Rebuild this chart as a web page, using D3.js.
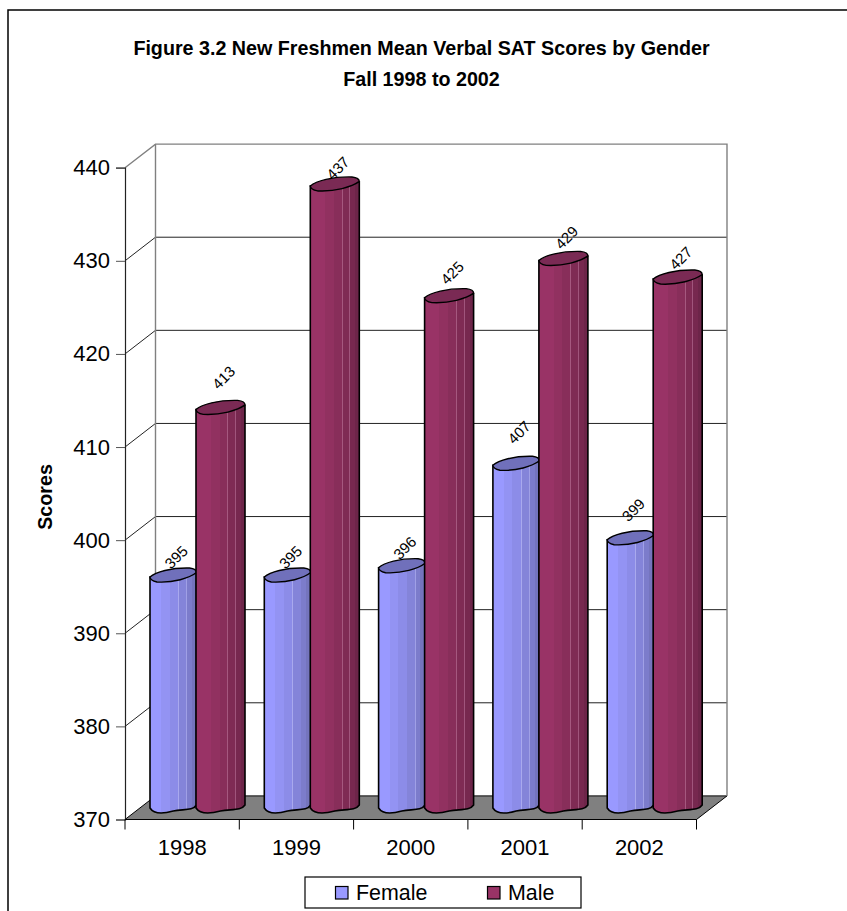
<!DOCTYPE html>
<html>
<head>
<meta charset="utf-8">
<script src="https://cdn.jsdelivr.net/npm/d3@7"></script>
<style>
  html, body { margin: 0; padding: 0; background: #fff; }
  svg { display: block; }
  text { font-family: "Liberation Sans", Arial, sans-serif; fill: #000; }
</style>
</head>
<body>
<svg id="plot" width="847" height="911"></svg>
<script>
// Values
const years = ["1998", "1999", "2000", "2001", "2002"];
const female = [395, 395, 396, 407, 399];
const male = [413, 437, 425, 429, 427];
const yTicks = [370, 380, 390, 400, 410, 420, 430, 440];
const seriesNames = ["Female", "Male"];

// How far each value label floats above its bar
const femaleLift = [20, 20, 20, 33, 30];
const maleLift = [32, 18, 25, 23, 21];

const depthX = 30.5, depthY = -23.6;
const svg = d3.select("#plot");

// Set the ranges
const x = d3.scaleBand().domain(years).range([125, 696.5]);
const y = d3.scaleLinear().domain([370, 440]).range([819.5, 167.7]);

// Outer chart border, runs off the right and bottom of the picture
svg.append("rect")
    .attr("x", 8).attr("y", 10)
    .attr("width", 900).attr("height", 950)
    .attr("fill", "#fff").attr("stroke", "#000").attr("stroke-width", 1.5);

// Title
const title = svg.append("text")
    .attr("text-anchor", "middle")
    .attr("font-weight", "bold")
    .attr("font-size", 19.7);
title.append("tspan").attr("x", 421.5).attr("y", 55).text("Figure 3.2 New Freshmen Mean Verbal SAT Scores by Gender");
title.append("tspan").attr("x", 421.5).attr("y", 86).text("Fall 1998 to 2002");

// Back wall, side wall and floor
const x0 = x.range()[0], x1 = x.range()[1];
svg.append("path")
    .attr("d", `M${x0 + depthX},${y(370) + depthY}H${x1 + depthX}L${x1},${y(370)}H${x0}Z`)
    .attr("fill", "#808080").attr("stroke", "#000");

svg.selectAll(".grid")
    .data(yTicks.slice(1, -1))
  .enter().append("path")
    .attr("class", "grid")
    .attr("fill", "none").attr("stroke", "#222")
    .attr("d", (d) => `M${x0},${y(d)}L${x0 + depthX},${y(d) + depthY}H${x1 + depthX}`);

svg.append("path")
    .attr("fill", "none").attr("stroke", "#808080").attr("stroke-width", 1.4)
    .attr("d", `M${x0},${y(440)}L${x0 + depthX},${y(440) + depthY}H${x1 + depthX}V${y(370) + depthY}`);
svg.append("path")
    .attr("fill", "none").attr("stroke", "#808080").attr("stroke-width", 1.4)
    .attr("d", `M${x0 + depthX},${y(440) + depthY}V${y(370) + depthY}`);

// Axes
svg.append("g")
    .attr("transform", `translate(${x0},0)`)
    .call(d3.axisLeft(y).tickValues(yTicks).tickSize(9).tickPadding(6))
    .call((g) => g.select(".domain").attr("stroke", "#222").attr("stroke-width", 1.2))
    .call((g) => g.selectAll(".tick line").attr("stroke", "#555"))
    .call((g) => g.selectAll("text").attr("font-size", 22).attr("font-family", "Liberation Sans"));

svg.append("g")
    .attr("transform", `translate(0,${y(370)})`)
    .call(d3.axisBottom(x).tickSize(0).tickPadding(20))
    .call((g) => g.select(".domain").attr("d", `M${x0},0H${x1}`).attr("stroke", "#000"))
    .call((g) => g.selectAll("text").attr("font-size", 22).attr("font-family", "Liberation Sans"));

svg.selectAll(".xtick")
    .data(years.map((d) => x(d)).concat([x1]))
  .enter().append("line")
    .attr("class", "xtick")
    .attr("x1", (d) => d).attr("x2", (d) => d)
    .attr("y1", y(370)).attr("y2", y(370) + 10)
    .attr("stroke", "#000");

svg.append("text")
    .attr("transform", "translate(52,497) rotate(-90)")
    .attr("text-anchor", "middle")
    .attr("font-weight", "bold")
    .attr("font-size", 19.7)
    .text("Scores");

// Cylinder shading, hard colour bands with a few pale seams
const defs = svg.append("defs");
function shade(id, bands) {
  const g = defs.append("linearGradient").attr("id", id);
  bands.forEach(([from, to, c]) => {
    g.append("stop").attr("offset", from).attr("stop-color", c);
    g.append("stop").attr("offset", to).attr("stop-color", c);
  });
}
shade("femaleShade", [
  [0, 0.24, "#9999ff"], [0.24, 0.42, "#9393f3"], [0.42, 0.6, "#8c8ce8"], [0.6, 0.62, "#a9a9ee"],
  [0.62, 0.78, "#8484d9"], [0.78, 0.8, "#a0a0e6"], [0.8, 0.9, "#7c7ccb"], [0.9, 1, "#7474bd"]
]);
shade("maleShade", [
  [0, 0.3, "#993366"], [0.3, 0.48, "#913160"], [0.48, 0.64, "#882e5a"], [0.64, 0.66, "#a5587f"],
  [0.66, 0.8, "#7f2b54"], [0.8, 0.82, "#a0557c"], [0.82, 0.92, "#77284f"], [0.92, 1, "#6d2549"]
]);

// bar geometry relative to the band
const femaleOffset = 25, femaleWidth = 46.5, maleOffset = 71, maleWidth = 49;
const planeShift = 9.7;

function cylinder(left, width, value, fill, topFill, lift) {
  const top = y(value) - planeShift;
  const base = y(370) - 11.5;
  const r = width;
  const g = svg.append("g");
  g.append("path")
      .attr("d", `M${left},${top}V${base}` +
        `C${left + r * 0.08},${base + 6} ${left + r * 0.28},${base + 6} ${left + r * 0.5},${base + 3}` +
        `C${left + r * 0.72},${base + 1} ${left + r * 0.92},${base + 3} ${left + r},${base - 3}` +
        `V${top - 4}Z`)
      .attr("fill", fill).attr("stroke", "#000").attr("stroke-width", 1.6);
  g.append("path")
      .attr("d", `M${left},${top}` +
        `C${left + r * 0.12},${top - 5} ${left + r * 0.45},${top - 9.5} ${left + r * 0.85},${top - 9}` +
        `C${left + r * 0.95},${top - 8.5} ${left + r},${top - 6.5} ${left + r},${top - 4.5}` +
        `C${left + r * 0.85},${top + 1} ${left + r * 0.5},${top + 6} ${left + r * 0.15},${top + 5}` +
        `C${left + r * 0.06},${top + 4} ${left},${top + 2} ${left},${top}Z`)
      .attr("fill", topFill).attr("stroke", "#000").attr("stroke-width", 1.4);
  svg.append("text")
      .attr("transform", `translate(${left + r * 0.56},${top - lift}) rotate(-45)`)
      .attr("font-size", 15)
      .attr("text-anchor", "middle")
      .attr("dominant-baseline", "central")
      .text(value);
}

// Create the bars, female first so male overlaps it
years.forEach((yr, i) => {
  cylinder(x(yr) + femaleOffset, femaleWidth, female[i], "url(#femaleShade)", "#7070bb", femaleLift[i]);
  cylinder(x(yr) + maleOffset, maleWidth, male[i], "url(#maleShade)", "#7a2a54", maleLift[i]);
});

// Legend
svg.append("rect")
    .attr("x", 305).attr("y", 877).attr("width", 276).attr("height", 31)
    .attr("fill", "#fff").attr("stroke", "#000").attr("stroke-width", 1.2);
const legendX = d3.scalePoint().domain(seriesNames).range([335.5, 487.5]);
const legendFill = d3.scaleOrdinal().domain(seriesNames).range(["#9999ff", "#993366"]);
seriesNames.forEach((name) => {
  svg.append("rect")
      .attr("x", legendX(name)).attr("y", 886.5).attr("width", 12.5).attr("height", 12.5)
      .attr("fill", legendFill(name)).attr("stroke", "#000").attr("stroke-width", 1.2);
  svg.append("text")
      .attr("x", legendX(name) + 20.5).attr("y", 900)
      .attr("font-size", 21.4)
      .text(name);
});
</script>
</body>
</html>
